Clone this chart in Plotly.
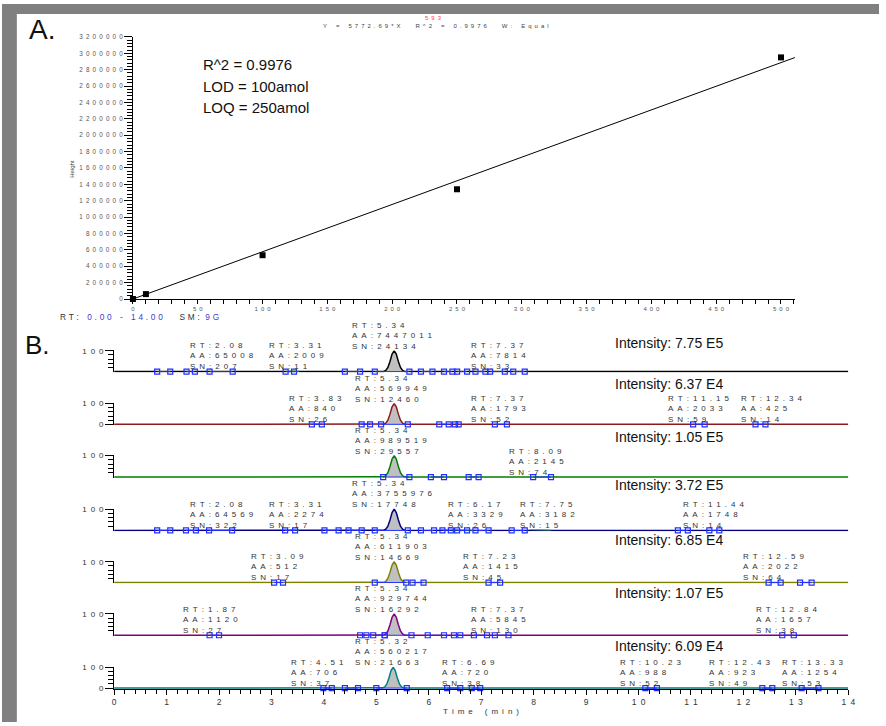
import plotly.graph_objects as go

W, H = 886, 726
EN = "\u2002"
THIRD = "\u2004"


def fx(p):
    return p / W


def fy(p):
    return 1 - p / H


def spaced(s, gap=EN):
    return gap.join(gap if c == " " else c for c in s)


# ---------------- data: panel A (calibration) ----------------
cal_amount = [0, 10, 100, 250, 500]
cal_height = [0, 60000, 535000, 1340000, 2950000]
fit_slope = 5772.69
fit_x = [0, 512]
a_xticks = [0, 50, 100, 150, 200, 250, 300, 350, 400, 450, 500]
a_yticks = [0, 200000, 400000, 600000, 800000, 1000000, 1200000, 1400000, 1600000,
            1800000, 2000000, 2200000, 2400000, 2600000, 2800000, 3000000, 3200000]
stats_lines = ["R^2 = 0.9976", "LOD = 100amol", "LOQ = 250amol"]
header_eq = "Y = 5772.69*X  R^2 = 0.9976  W: Equal"
header_id = "593"

# ---------------- data: panel B (chromatograms) ----------------
b_xticks = [0, 1, 2, 3, 4, 5, 6, 7, 8, 9, 10, 11, 12, 13, 14]
apex_rt = [5.34, 5.34, 5.34, 5.34, 5.34, 5.34, 5.32]
peak_dt = [-0.24, -0.2, -0.16, -0.12, -0.08, -0.04, 0, 0.04, 0.08, 0.12, 0.16, 0.2, 0.24]
peak_rel = [0, 1, 6, 20, 49, 84, 100, 84, 49, 20, 6, 1, 0]
intensity_text = ["7.75 E5", "6.37 E4", "1.05 E5", "3.72 E5", "6.85 E4", "1.07 E5", "6.09 E4"]
main_aa = [7447011, 569949, 989519, 3755976, 611903, 929744, 560217]
main_sn = [24134, 12460, 29557, 17748, 14669, 16292, 21663]
minor_peaks = [
    [(2.08, 65008, 207), (3.31, 2009, 11), (7.37, 7814, 33)],
    [(3.83, 840, 26), (7.37, 1793, 52), (11.15, 2033, 59), (12.34, 425, 14)],
    [(8.09, 2145, 74)],
    [(2.08, 64569, 322), (3.31, 2274, 17), (6.17, 3329, 26), (7.75, 3182, 15), (11.44, 1748, 14)],
    [(3.09, 512, 17), (7.23, 1415, 45), (12.59, 2022, 64)],
    [(1.87, 1120, 27), (7.37, 5845, 130), (12.84, 1657, 38)],
    [(4.51, 706, 37), (6.69, 720, 38), (10.23, 988, 52), (12.43, 923, 49), (13.33, 1254, 53)],
]
boundaries = [
    [(0.82, 1.07), (1.38, 1.54), (1.82, 2.26), (3.27, 3.43), (4.40, 4.69), (4.97, 5.63),
     (5.85, 6.07), (6.29, 6.45), (6.54, 6.73), (6.89, 7.08), (7.17, 7.45), (7.61, 7.83)],
    [(3.77, 3.96), (4.72, 4.88), (5.09, 5.60), (6.20, 6.38), (6.50, 6.57), (7.26, 7.49),
     (11.04, 11.26), (12.23, 12.42)],
    [(5.13, 5.63), (6.04, 6.29), (6.76, 6.95), (7.99, 8.33)],
    [(0.82, 1.07), (1.37, 1.56), (1.81, 2.25), (3.26, 3.45), (4.01, 4.28), (4.47, 4.72),
     (4.97, 5.60), (5.85, 6.10), (6.26, 6.42), (6.54, 6.73), (6.89, 7.14), (7.58, 7.83),
     (10.75, 10.94), (11.35, 11.54)],
    [(3.05, 3.22), (4.97, 5.57), (5.69, 5.90), (7.14, 7.36), (12.48, 12.71), (13.08, 13.30)],
    [(1.82, 2.00), (4.69, 4.81), (4.94, 5.16), (5.16, 5.67), (5.98, 6.29), (6.48, 6.60),
     (6.86, 7.11), (7.26, 7.52), (12.74, 12.96)],
    [(3.99, 4.15), (4.40, 4.65), (5.00, 5.58), (6.35, 6.60), (6.82, 6.98), (10.13, 10.35),
     (12.36, 12.55), (13.11, 13.43)],
]
# small green integration segments (start, end) per trace
green_segments = [
    [(3.34, 3.53)],
    [(12.39, 12.54)],
    [],
    [(3.34, 3.53), (6.22, 6.86), (7.92, 8.33)],
    [],
    [],
    [(4.15, 4.53), (6.73, 6.98), (11.92, 12.39)],
]

# ---------------- layout / style constants ----------------
FONT = "Arial, Liberation Sans, sans-serif"
trace_colors = ["#000000", "#8b1a1a", "#008000", "#000080", "#808000", "#800080", "#008080"]
baseline_px = [371.7, 425.0, 478.3, 532.3, 585.0, 638.3, 691.7]
top_px = [350.7, 404.0, 456.7, 510.7, 564.0, 616.7, 670.7]
main_label_left_px = [354, 357, 357, 354, 357, 357, 356.7]
minor_label_left_px = [[190, 270, 474.3], [290, 474, 672.7, 746.7], [511.7],
                       [190, 270, 451, 523.3, 687.7], [251.7, 466, 748.3],
                       [183.3, 473.3, 761.7], [292.3, 445, 624, 714, 788.3]]
intensity_y_px = [342.7, 384, 438.3, 486.7, 541.7, 596, 649.3]
show_zero_label = [False, True, False, False, False, False, True]
Y_LO, Y_HI = -4, 102

fig = go.Figure()

# ---- panel A traces ----
fig.add_trace(go.Scatter(
    x=fit_x, y=[fit_slope * v for v in fit_x], mode="lines",
    line=dict(color="black", width=1), xaxis="x", yaxis="y", showlegend=False,
    hoverinfo="skip", cliponaxis=False))
fig.add_trace(go.Scatter(
    x=cal_amount, y=cal_height, mode="markers",
    marker=dict(symbol="square", size=6, color="black"),
    xaxis="x", yaxis="y", showlegend=False, cliponaxis=False))

# ---- panel B traces ----
annotations = []
for i in range(7):
    ya = "y%d" % (i + 2)
    t = [0] + [apex_rt[i] + d for d in peak_dt] + [14]
    v = [0] + peak_rel + [0]
    fig.add_trace(go.Scatter(
        x=t, y=v, mode="lines", line=dict(color=trace_colors[i], width=1.5),
        fill="tozeroy", fillcolor="#c0c0c0", xaxis="x2", yaxis=ya, showlegend=False))
    gx, gy = [], []
    for a, b in green_segments[i]:
        gx += [a, b, None]
        gy += [4, 2, None]
    if gx:
        fig.add_trace(go.Scatter(
            x=gx, y=gy, mode="lines", line=dict(color="#3cb43c", width=1),
            xaxis="x2", yaxis=ya, showlegend=False, cliponaxis=False))
    bx, by = [], []
    for a, b in boundaries[i]:
        bx += [a, b, None]
        by += [0, 0, None]
    fig.add_trace(go.Scatter(
        x=bx, y=by, mode="lines+markers",
        line=dict(color="#1f2fff", width=1),
        marker=dict(symbol="square-open", size=5, color="#1f2fff", line=dict(width=1.2)),
        xaxis="x2", yaxis=ya, showlegend=False, cliponaxis=False))

    # main peak label
    txt = "<br>".join([spaced("RT:%.2f" % apex_rt[i]), spaced("AA:%d" % main_aa[i]),
                       spaced("SN:%d" % main_sn[i])])
    annotations.append(dict(
        text=txt, x=fx(main_label_left_px[i] - 1), y=fy(top_px[i] + 1.0),
        xref="paper", yref="paper", xanchor="left", yanchor="bottom", align="left",
        showarrow=False, borderwidth=0, borderpad=1,
        font=dict(family=FONT, size=8, color="#333333")))
    for (rt, aa, sn), lx in zip(minor_peaks[i], minor_label_left_px[i]):
        txt = "<br>".join([spaced("RT:%.2f" % rt), spaced("AA:%d" % aa), spaced("SN:%d" % sn)])
        annotations.append(dict(
            text=txt, x=fx(lx - 1), y=fy(baseline_px[i] + 0.6),
            xref="paper", yref="paper", xanchor="left", yanchor="bottom", align="left",
            showarrow=False, borderwidth=0, borderpad=1,
            font=dict(family=FONT, size=8, color="#333333")))
    annotations.append(dict(
        text="Intensity: " + intensity_text[i], x=fx(674), y=fy(intensity_y_px[i]),
        xref="paper", yref="paper", xanchor="center", yanchor="middle", showarrow=False,
        font=dict(family=FONT, size=14, color="#111111")))

# ---- panel A texts ----
for k, line in enumerate(stats_lines):
    annotations.append(dict(text=line, x=fx(201), y=fy(61 + 22 * k), xref="paper", yref="paper",
                            xanchor="left", yanchor="middle", showarrow=False,
                            font=dict(family=FONT, size=15, color="#111111")))
annotations.append(dict(text="A.", x=fx(25), y=fy(26), xref="paper", yref="paper",
                        xanchor="left", yanchor="middle", showarrow=False,
                        font=dict(family=FONT, size=28, color="#111111")))
annotations.append(dict(text="B.", x=fx(21), y=fy(345), xref="paper", yref="paper",
                        xanchor="left", yanchor="middle", showarrow=False,
                        font=dict(family=FONT, size=26, color="#111111")))
annotations.append(dict(text=spaced(header_eq), x=fx(438), y=fy(22.3), xref="paper", yref="paper",
                        xanchor="center", yanchor="middle", showarrow=False,
                        font=dict(family=FONT, size=6, color="#444444")))
annotations.append(dict(text=spaced(header_id), x=fx(436), y=fy(13.7), xref="paper", yref="paper",
                        xanchor="center", yanchor="middle", showarrow=False,
                        font=dict(family=FONT, size=6, color="#ff4444")))
annotations.append(dict(text="Height", x=fx(70.7), y=fy(166.7), xref="paper", yref="paper",
                        xanchor="center", yanchor="middle", showarrow=False, textangle=-90,
                        font=dict(family=FONT, size=6, color="#444444")))
blue = "#3c3cd2"
rt_line = (spaced("RT:", THIRD) + THIRD * 3 +
           "<span style='color:%s'>%s</span>" % (blue, spaced("0.00 - 14.00", THIRD)) +
           THIRD * 6 + spaced("SM:", THIRD) + THIRD * 2 +
           "<span style='color:%s'>%s</span>" % (blue, spaced("9G", THIRD)))
annotations.append(dict(text=rt_line, x=fx(57), y=fy(316.5), xref="paper", yref="paper",
                        xanchor="left", yanchor="middle", showarrow=False,
                        font=dict(family=FONT, size=8.3, color="#333333")))
annotations.append(dict(text=spaced("Time (min)"), x=fx(484), y=fy(715), xref="paper", yref="paper",
                        xanchor="center", yanchor="middle", showarrow=False,
                        font=dict(family=FONT, size=8, color="#333333")))

# ---- axes ----
layout = dict(
    width=W, height=H, margin=dict(l=0, r=0, t=0, b=0),
    paper_bgcolor="white", plot_bgcolor="white", showlegend=False,
    annotations=annotations,
    shapes=[
        dict(type="rect", xref="paper", yref="paper", x0=0, x1=fx(15), y0=0, y1=1,
             fillcolor="#808080", line=dict(width=0), layer="below"),
        dict(type="rect", xref="paper", yref="paper", x0=0, x1=1, y0=fy(10), y1=1,
             fillcolor="#808080", line=dict(width=0), layer="below"),
    ],
    xaxis=dict(domain=[fx(132.3), fx(801)], range=[0, 510.7], anchor="y",
               showline=True, linecolor="black", linewidth=1, showgrid=False, zeroline=False,
               ticks="outside", ticklen=4, tickcolor="black",
               tickvals=a_xticks, ticktext=[spaced(str(v)) for v in a_xticks],
               tickfont=dict(family=FONT, size=6, color="#555555"),
               minor=dict(dtick=10, tick0=0, ticks="outside", ticklen=4, tickcolor="black")),
    yaxis=dict(domain=[fy(298.3), fy(33.3)], range=[0, 3200000], anchor="x",
               showline=True, linecolor="black", linewidth=1, showgrid=False, zeroline=False,
               ticks="outside", ticklen=8, tickcolor="black",
               tickvals=a_yticks, ticktext=[spaced(str(v)) for v in a_yticks],
               tickfont=dict(family=FONT, size=6.3, color="#555555"),
               minor=dict(dtick=40000, tick0=0, ticks="outside", ticklen=5, tickcolor="black")),
    xaxis2=dict(domain=[fx(113.3), fx(855)], range=[0, 14], anchor="y8",
                showline=True, linecolor="black", linewidth=1, showgrid=False, zeroline=False,
                ticks="outside", ticklen=5, tickcolor="black",
                tickvals=b_xticks, ticktext=[spaced(str(v)) for v in b_xticks],
                tickfont=dict(family=FONT, size=8.5, color="#333333"),
                minor=dict(dtick=0.2, tick0=0, ticks="outside", ticklen=4, tickcolor="black")),
)
s_list = [(baseline_px[i] - top_px[i]) / 100.0 for i in range(7)]
for i in range(7):
    s = s_list[i]
    tv = [0, 100] if show_zero_label[i] else [100]
    tt = ["0", spaced("100")] if show_zero_label[i] else [spaced("100")]
    layout["yaxis%d" % (i + 2)] = dict(
        domain=[fy(baseline_px[i] - Y_LO * s), fy(top_px[i] - (Y_HI - 100) * s)],
        range=[Y_LO, Y_HI], anchor="x2",
        showline=True, linecolor="black", linewidth=1, showgrid=False, zeroline=False,
        ticks="outside", ticklen=8, tickcolor="black", tickvals=tv, ticktext=tt,
        tickfont=dict(family=FONT, size=8, color="#333333"),
        minor=dict(tickvals=[20, 40, 60, 80], ticks="outside", ticklen=5, tickcolor="black"))

fig.update_layout(**layout)
fig.write_html(
    "out.html",
    config={"responsive": False, "displayModeBar": False},
    post_script=("document.body.style.margin='0';document.body.style.overflow='hidden';"
                 "document.documentElement.style.background='white';"))
